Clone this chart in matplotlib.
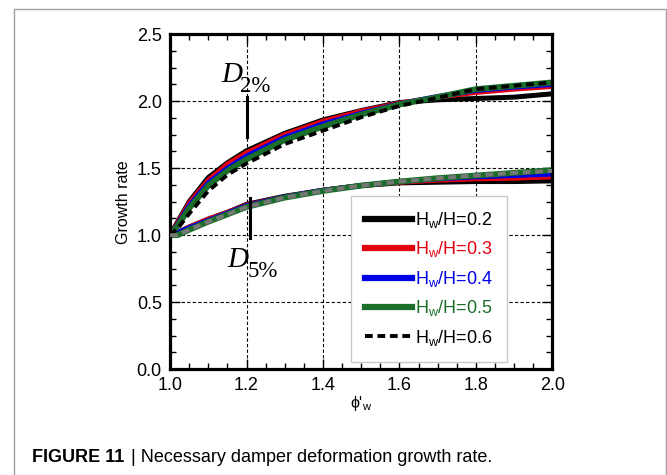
import matplotlib
matplotlib.use("Agg")
import matplotlib.pyplot as plt
from matplotlib.patches import Rectangle
from matplotlib.ticker import MultipleLocator

plt.rcParams['font.family'] = ['Liberation Sans', 'DejaVu Sans']
plt.rcParams['mathtext.fontset'] = 'custom'
plt.rcParams['mathtext.rm'] = 'Liberation Sans'

# phi'_w values
phi = [1.0, 1.02, 1.05, 1.1, 1.15, 1.2, 1.3, 1.4, 1.5, 1.6, 1.7, 1.8, 1.9, 2.0]

ratios = ['0.2', '0.3', '0.4', '0.5', '0.6']
colors = ['black', '#e3000f', '#0000e6', '#1b6e2a', 'black']

# upper group (D 2%)
d2_02 = [1.0, 1.10, 1.25, 1.43, 1.54, 1.63, 1.76, 1.86, 1.93, 1.99, 2.01, 2.02, 2.03, 2.055]
d2_03 = [1.0, 1.09, 1.24, 1.41, 1.53, 1.615, 1.75, 1.85, 1.925, 1.985, 2.03, 2.065, 2.09, 2.11]
d2_04 = [1.0, 1.08, 1.22, 1.39, 1.50, 1.59, 1.73, 1.83, 1.91, 1.98, 2.035, 2.08, 2.105, 2.125]
d2_05 = [1.0, 1.07, 1.20, 1.37, 1.48, 1.565, 1.71, 1.81, 1.90, 1.975, 2.03, 2.09, 2.115, 2.14]
d2_06 = [1.0, 1.05, 1.16, 1.33, 1.45, 1.535, 1.68, 1.78, 1.88, 1.965, 2.025, 2.09, 2.115, 2.14]

# lower group (D 5%)
d5_02 = [1.0, 1.02, 1.06, 1.12, 1.17, 1.23, 1.29, 1.335, 1.37, 1.39, 1.395, 1.40, 1.40, 1.405]
d5_03 = [1.0, 1.02, 1.06, 1.12, 1.17, 1.225, 1.285, 1.335, 1.37, 1.395, 1.41, 1.42, 1.425, 1.435]
d5_04 = [1.0, 1.02, 1.055, 1.11, 1.165, 1.22, 1.285, 1.335, 1.37, 1.40, 1.42, 1.435, 1.445, 1.455]
d5_05 = [1.0, 1.0, 1.04, 1.10, 1.155, 1.21, 1.28, 1.33, 1.37, 1.40, 1.425, 1.445, 1.465, 1.485]
d5_06 = [1.0, 1.0, 1.04, 1.10, 1.155, 1.21, 1.28, 1.33, 1.37, 1.40, 1.425, 1.445, 1.465, 1.48]

upper = [d2_02, d2_03, d2_04, d2_05, d2_06]
lower = [d5_02, d5_03, d5_04, d5_05, d5_06]

fig = plt.figure(figsize=(6.67, 4.75), dpi=100)
ax = fig.add_axes([0.255, 0.223, 0.573, 0.705])

dots = (0, (2, 1.2))
for i in range(5):
    label = 'H$_\\mathregular{w}$/H=' + ratios[i]
    if i == 4:
        ax.plot(phi, upper[i], color='black', lw=2.8, ls=dots, label=label, zorder=3)
        ax.plot(phi, lower[i], color='#777777', lw=2.8, ls=dots, zorder=3)
    else:
        w = 4.2 if i == 3 else 3.6
        ax.plot(phi, upper[i], color=colors[i], lw=w, label=label, zorder=2)
        ax.plot(phi, lower[i], color=colors[i], lw=w, zorder=2)

# D markers
ax.plot([1.2, 1.2], [1.735, 2.03], color='black', lw=2.2, zorder=4)
ax.plot([1.21, 1.21], [0.98, 1.275], color='black', lw=2.2, zorder=4)
ax.text(1.134, 2.142, 'D', family='Liberation Serif', style='italic', fontsize=21)
ax.text(1.182, 2.067, '2%', family='Liberation Serif', fontsize=16.5)
ax.text(1.149, 0.761, 'D', family='Liberation Serif', style='italic', fontsize=21)
ax.text(1.203, 0.687, '5%', family='Liberation Serif', fontsize=16.5)

ax.set_xlim(1.0, 2.0)
ax.set_ylim(0.0, 2.5)
ax.xaxis.set_major_locator(MultipleLocator(0.2))
ax.xaxis.set_minor_locator(MultipleLocator(0.05))
ax.yaxis.set_major_locator(MultipleLocator(0.5))
ax.yaxis.set_minor_locator(MultipleLocator(0.125))
ax.set_xticklabels([f'{v:.1f}' for v in ax.get_xticks()])
ax.set_yticklabels([f'{v:.1f}' for v in ax.get_yticks()])
ax.tick_params(which='both', direction='in', top=True, right=True, labelsize=13, width=1)
ax.tick_params(which='major', length=7, pad=6)
ax.tick_params(which='minor', length=4.5)
for s in ax.spines.values():
    s.set_linewidth(2.3)
ax.grid(True, which='major', color='black', ls=(0, (3, 2)), lw=0.8)
ax.set_axisbelow(True)

ax.set_ylabel('Growth rate', fontsize=11.5, labelpad=4)
ax.set_xlabel("ϕ'$_\\mathregular{w}$", fontsize=11.5, labelpad=0)

leg = ax.legend(loc='lower right', bbox_to_anchor=(0.882, 0.021), fontsize=13,
                handlelength=2.6, handletextpad=0.15, labelspacing=0.52, borderaxespad=0,
                fancybox=False, framealpha=1, edgecolor='#c8c8c8', borderpad=0.8)
leg.get_frame().set_linewidth(1)
for t, c in zip(leg.get_texts(), colors):
    t.set_color(c)
for h in leg.get_lines()[:4]:
    h.set_linewidth(4.5)

# figure frame and caption
fig.add_artist(Rectangle((14 / 667, -0.1), 652 / 667, 1.1 - 9 / 475, transform=fig.transFigure,
                         fill=False, edgecolor='#a0a0a0', lw=1))
fig.text(32 / 667, 1 - 457 / 475, 'FIGURE 11', fontsize=13, weight='bold', va='center')
fig.text(131 / 667, 1 - 457 / 475, '| Necessary damper deformation growth rate.', fontsize=13,
         va='center')

fig.savefig('out.png', dpi=100)
